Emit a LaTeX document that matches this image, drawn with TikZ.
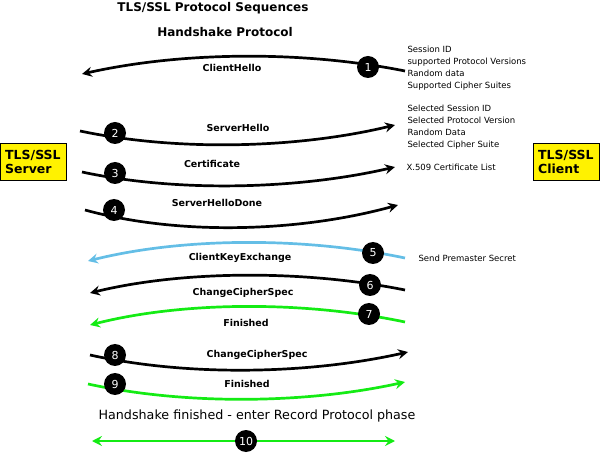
\documentclass[tikz,border=0pt]{standalone}
\usepackage{fontspec}
\setmainfont{DejaVu Sans}
\usetikzlibrary{arrows.meta}
\definecolor{sky}{RGB}{100,190,230}
\definecolor{grn}{RGB}{20,235,20}
\begin{document}
\begin{tikzpicture}[x=1pt,y=-1pt,
  msg/.style={line width=2.7pt,-{Stealth[length=10pt,width=10pt,inset=3.5pt]}},
  num/.style={circle,fill=black,minimum size=22pt,inner sep=0pt,text=white,font=\fontsize{11}{12}\selectfont},
  lbl/.style={font=\bfseries\fontsize{9.5}{10}\selectfont},
  note/.style={font=\fontsize{8.5}{12}\selectfont,align=left,anchor=west},
  box/.style={draw=black,fill=yellow,font=\bfseries\fontsize{12.5}{14}\selectfont,align=left,inner xsep=5pt,inner ysep=3pt,anchor=north west,text width=56pt}]
\useasboundingbox (0,0) rectangle (600,454);
\node[font=\bfseries\fontsize{12}{13}\selectfont] (t1) at (213,8) {TLS/SSL Protocol Sequences};
\node[font=\bfseries\fontsize{12}{13}\selectfont] (t2) at (225,32) {Handshake Protocol};
\node[box,minimum height=37pt] (srv) at (0,143) {TLS/SSL\\Server};
\node[box,minimum height=37pt] (cli) at (533,143) {TLS/SSL\\Client};
% 1
\coordinate (a1) at (405,71); \coordinate (b1) at (82,74);
\draw[msg] (a1) .. controls (300,50) and (180,52) .. (b1);
\node[num] (n1) at (368,67) {1};
\node[lbl] (l1) at (232,68) {ClientHello};
\node[note] (m1) at (404,68) {Session ID\\supported Protocol Versions\\Random data\\Supported Cipher Suites};
% 2
\coordinate (a2) at (80,131); \coordinate (b2) at (395,125);
\draw[msg] (a2) .. controls (180,152) and (300,148) .. (b2);
\node[num] (n2) at (115,133) {2};
\node[lbl] (l2) at (238,128) {ServerHello};
\node[note] (m2) at (404,127) {Selected Session ID\\Selected Protocol Version\\Random Data\\Selected Cipher Suite};
% 3
\coordinate (a3) at (82,172); \coordinate (b3) at (395,167);
\draw[msg] (a3) .. controls (180,193) and (300,189) .. (b3);
\node[num] (n3) at (115,173) {3};
\node[lbl] (l3) at (212,164) {Certificate};
\node[note] (m3) at (403,167) {X.509 Certificate List};
% 4
\coordinate (a4) at (85,210); \coordinate (b4) at (398,205);
\draw[msg] (a4) .. controls (180,236) and (300,232) .. (b4);
\node[num] (n4) at (114,210) {4};
\node[lbl] (l4) at (217,203) {ServerHelloDone};
% 5
\coordinate (a5) at (405,258); \coordinate (b5) at (88,261);
\draw[msg,sky] (a5) .. controls (300,236) and (180,238) .. (b5);
\node[num] (n5) at (373,253) {5};
\node[lbl] (l5) at (240,258) {ClientKeyExchange};
\node[note] (m5) at (415,258) {Send Premaster Secret};
% 6
\coordinate (a6) at (405,290); \coordinate (b6) at (90,293);
\draw[msg] (a6) .. controls (300,269) and (180,271) .. (b6);
\node[num] (n6) at (370,285) {6};
\node[lbl] (l6) at (243,293) {ChangeCipherSpec};
% 7
\coordinate (a7) at (405,322); \coordinate (b7) at (90,325);
\draw[msg,grn] (a7) .. controls (300,300) and (180,302) .. (b7);
\node[num] (n7) at (369,314) {7};
\node[lbl] (l7) at (246,323) {Finished};
% 8
\coordinate (a8) at (90,355); \coordinate (b8) at (408,352);
\draw[msg] (a8) .. controls (190,377) and (310,374) .. (b8);
\node[num] (n8) at (115,355) {8};
\node[lbl] (l8) at (257,355) {ChangeCipherSpec};
% 9
\coordinate (a9) at (88,384); \coordinate (b9) at (405,382);
\draw[msg,grn] (a9) .. controls (190,406) and (310,403) .. (b9);
\node[num] (n9) at (115,384) {9};
\node[lbl] (l9) at (247,384) {Finished};
\node[font=\fontsize{12.7}{13}\selectfont] (t3) at (257,416) {Handshake finished - enter Record Protocol phase};
% 10
\coordinate (a10) at (92,441); \coordinate (b10) at (395,441);
\draw[msg,grn,{Stealth[length=10pt,width=10pt,inset=3.5pt]}-{Stealth[length=10pt,width=10pt,inset=3.5pt]}] (a10) -- (b10);
\node[num] (n10) at (246,441) {10};
\end{tikzpicture}
\end{document}
